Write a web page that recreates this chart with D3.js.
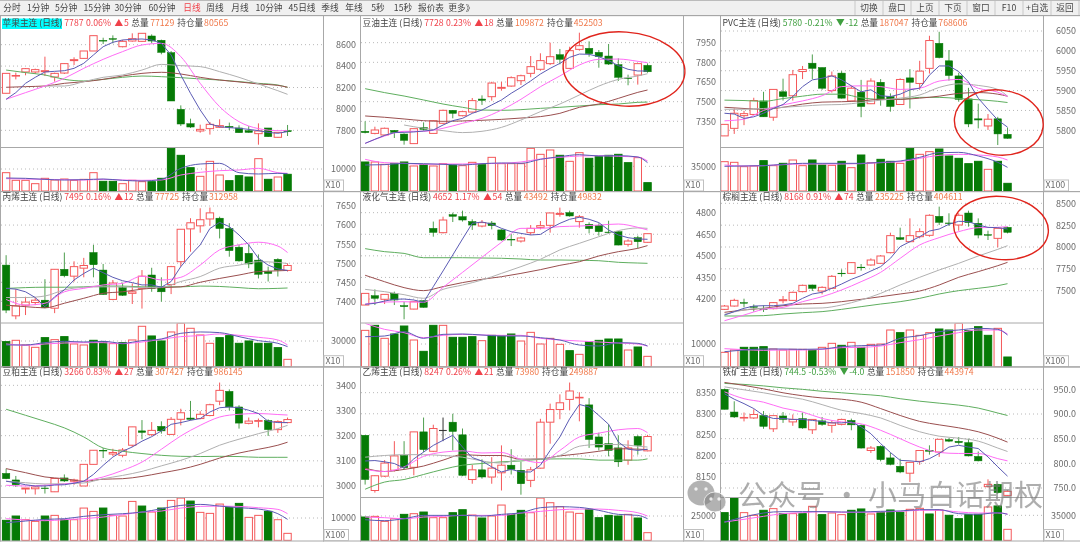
<!DOCTYPE html>
<html><head><meta charset="utf-8">
<script src="https://cdn.jsdelivr.net/npm/d3@7/dist/d3.min.js"></script>
<style>html,body{margin:0;padding:0;background:#fff;overflow:hidden}svg{display:block;filter:blur(0.35px)}text{font-family:"Noto Sans CJK SC","Noto Sans",sans-serif}</style>
</head><body><div id="c"></div>
<script>
const toolbarTabs=['分时','1分钟','5分钟','15分钟','30分钟','60分钟','日线','周线','月线','10分钟','45日线','季线','年线','5秒','15秒','报价表','更多','》'];
const toolbarButtons=['切换','盘口','上页','下页','窗口','F10','+自选','返回'];
const slowIdx=[0,2,4,6,8,10,12,14,16,18,20,22,24,26,28,29];

const appleCandles=[[8146,8332,8146,8332],[8308,8339,8276,8312],[8345,8382,8314,8376],[8345,8376,8326,8367],[8348,8488,8307,8357],[8298,8339,8255,8332],[8335,8426,8326,8423],[8451,8482,8410,8460],[8472,8541,8469,8541],[8541,8684,8541,8684],[8639,8665,8606,8636],[8656,8687,8612,8650],[8581,8644,8575,8631],[8634,8706,8628,8656],[8631,8706,8625,8706],[8681,8696,8612,8634],[8641,8647,8510,8528],[8525,8540,8074,8074],[7996,8033,7840,7859],[7862,7909,7822,7831],[7794,7853,7778,7809],[7816,7878,7760,7856],[7828,7903,7822,7844],[7837,7872,7803,7828],[7822,7847,7778,7778],[7797,7840,7778,7781],[7769,7865,7666,7794],[7822,7822,7738,7741],[7735,7784,7732,7781],[7797,7850,7747,7787]];
const appleMa5=[8090,8152,8239,8295,8345,8351,8357,8379,8426,8504,8581,8622,8644,8650,8653,8644,8612,8504,8317,8146,7990,7859,7834,7825,7819,7809,7797,7781,7772,7788];
const appleMa10=[8090,8152,8214,8286,8379,8463,8535,8597,8612,8488,8239,8021,7881,7816,7797,7797];
const appleMa20=[null,null,8214,8214,8254,8295,8317,8363,8416,8404,8395,8348,8295,8233,8170,8136];
const appleMa40=[8202,8208,8214,8239,8254,8276,8307,8332,8342,8326,8295,8270,8252,8233,8220,8202];
const appleMa60=[8363,8339,8317,8276,8261,8276,8295,8307,8301,8292,8280,8270,8255,8239,8223,8202];
const appleVol=[8330,4850,4850,3330,5760,5000,5450,4850,5300,8330,4390,4390,3330,4850,4240,4240,5760,19390,16210,10600,6670,13480,7270,4700,6970,6360,14700,5300,6360,7580];
const appleVolMa5=[5909,5757,5303,5000,5151,5454,4848,4545,5303,10302,12272,12575,8333,7727,8030,7878];
const appleVolMa10=[5606,5454,5303,5151,5000,5303,5000,4848,5000,7272,8484,9242,9545,10302,8333,8030];

const soyoilCandles=[[7274,7350,7258,7264],[7258,7309,7251,7284],[7246,7302,7238,7297],[7281,7284,7223,7266],[7253,7258,7172,7205],[7180,7294,7180,7294],[7302,7342,7279,7289],[7258,7360,7258,7355],[7335,7439,7330,7434],[7434,7436,7373,7411],[7393,7431,7388,7424],[7421,7528,7416,7508],[7520,7548,7475,7510],[7538,7652,7508,7642],[7602,7652,7584,7609],[7619,7693,7614,7683],[7660,7706,7627,7698],[7716,7848,7686,7767],[7747,7869,7736,7813],[7790,7950,7780,7843],[7858,7902,7785,7823],[7754,7919,7752,7889],[7899,8026,7889,7927],[7907,7960,7843,7866],[7876,7894,7759,7843],[7848,7940,7780,7787],[7782,7830,7658,7686],[7680,7706,7625,7676],[7703,7792,7630,7790],[7777,7792,7721,7728]];
const soyoilMa5=[7182,7213,7243,7264,7266,7269,7276,7284,7322,7355,7373,7411,7436,7475,7513,7564,7609,7658,7711,7754,7792,7838,7863,7861,7843,7813,7775,7747,7734,7734];
const soyoilMa10=[7182,7238,7274,7274,7297,7335,7373,7436,7518,7614,7696,7780,7823,7825,7808,7797];
const soyoilMa20=[null,null,7322,7297,7279,7264,7274,7304,7360,7424,7482,7551,7619,7670,7696,7713];
const soyoilMa40=[7391,7381,7368,7355,7350,7353,7358,7365,7375,7386,7411,7457,7482,7525,7571,7589];
const soyoilMa60=[7599,7569,7543,7513,7482,7457,7436,7434,7439,7449,7457,7467,7477,7482,7495,7497];
const soyoilVol=[41150,41150,37840,39260,41150,35480,37370,35480,38790,36890,35950,40680,37370,47770,38790,38790,38790,60540,52030,58180,50610,42100,54400,46350,48720,50610,52030,40200,47300,11830];
const soyoilVolMa5=[36894,37367,39259,38786,37840,36894,38786,39732,39259,44935,48719,51557,49665,50138,48246,40205];
const soyoilVolMa10=[44935,40205,39259,37840,38313,38313,38786,39259,41151,45408,47773,49665,50138,49192,48246,42570];

const pvcCandles=[[5786,5815,5786,5815],[5805,5855,5791,5843],[5837,5849,5813,5842],[5840,5882,5839,5875],[5874,5897,5834,5834],[5833,5903,5824,5903],[5897,5930,5875,5885],[5887,5952,5875,5940],[5948,5962,5929,5953],[5969,5991,5929,5956],[5958,5958,5902,5906],[5900,5948,5895,5937],[5944,5949,5880,5881],[5874,5912,5872,5906],[5896,5927,5833,5860],[5867,5931,5866,5924],[5921,5929,5862,5879],[5885,5893,5847,5860],[5865,5931,5864,5928],[5932,5954,5855,5921],[5918,5975,5902,5949],[5956,6038,5943,6026],[6019,6048,5981,5983],[5975,6002,5925,5938],[5937,5945,5872,5878],[5879,5907,5808,5816],[5829,5867,5805,5826],[5811,5841,5801,5828],[5829,5834,5763,5791],[5790,5807,5779,5780]];
const pvcMa5=[5843,5841,5830,5834,5843,5855,5865,5885,5910,5927,5931,5937,5927,5912,5897,5902,5887,5885,5891,5902,5906,5939,5962,5962,5948,5922,5881,5853,5826,5808];
const pvcMa10=[5824,5828,5850,5864,5874,5887,5910,5912,5910,5903,5906,5924,5928,5906,5896,5885];
const pvcMa20=[5853,5853,5855,5858,5861,5864,5865,5870,5876,5881,5889,5908,5917,5913,5903,5886];
const pvcMa40=[5858,5855,5853,5858,5866,5871,5872,5874,5878,5878,5881,5886,5893,5895,5891,5886];
const pvcMa60=[5876,5875,5873,5880,5886,5891,5891,5882,5878,5878,5883,5883,5880,5877,5873,5870];
const pvcVol=[41620,40680,34530,35480,43040,35950,39260,43990,35950,43990,36890,36420,42100,33110,51080,40200,44940,42100,39260,60540,52030,55810,59600,49660,46350,38790,42100,30750,42100,10880];
const pvcVolMa5=[35002,35475,35948,37840,39259,39259,39259,39259,40678,42570,47773,54395,54868,49665,40678,33583];
const pvcVolMa10=[36894,35475,35948,37367,38313,38313,38313,38786,40205,41624,46354,50611,52030,51084,48246,43989];

const propyleneCandles=[[7495,7521,7369,7377],[7362,7432,7353,7388],[7390,7412,7364,7398],[7397,7410,7390,7403],[7403,7458,7382,7383],[7382,7484,7369,7484],[7484,7528,7463,7467],[7466,7505,7452,7491],[7487,7514,7463,7494],[7528,7548,7463,7496],[7482,7498,7417,7418],[7405,7456,7403,7448],[7436,7449,7414,7416],[7421,7447,7393,7425],[7434,7482,7381,7466],[7469,7488,7425,7434],[7438,7463,7399,7425],[7444,7493,7419,7491],[7504,7589,7491,7589],[7590,7618,7530,7606],[7598,7644,7580,7614],[7616,7646,7598,7632],[7618,7622,7565,7591],[7591,7605,7517,7533],[7542,7549,7504,7506],[7526,7548,7487,7498],[7508,7523,7460,7471],[7478,7491,7452,7473],[7510,7513,7465,7482],[7481,7500,7478,7494]];
const propyleneMa5=[7434,7432,7425,7410,7386,7412,7430,7456,7473,7487,7475,7463,7454,7449,7443,7443,7437,7452,7491,7521,7548,7591,7607,7596,7574,7548,7513,7495,7485,7481];
const propyleneMa10=[7405,7390,7395,7425,7434,7443,7447,7466,7456,7463,7495,7535,7548,7555,7545,7528];
const propyleneMa20=[7410,7410,7414,7430,7437,7438,7438,7436,7437,7452,7465,7487,7495,7504,7502,7499];
const propyleneMa40=[7390,7386,7383,7395,7408,7421,7425,7432,7436,7438,7450,7460,7469,7478,7480,7481];
const propyleneMa60=[7434,7436,7437,7437,7438,7440,7440,7438,7438,7438,7440,7439,7436,7433,7434,7435];
const propyleneVol=[29250,30810,25350,22620,33930,31590,35100,26520,25350,30810,29250,26910,28080,31200,47190,35880,30030,40560,50700,44850,37050,27300,33930,36270,27300,30030,27300,27300,22230,8580];
const propyleneVolMa5=[25350,25350,28080,29640,28860,29640,27300,30420,32370,39000,40560,39780,35100,30420,27300,23400];
const propyleneVolMa10=[26520,24960,26520,27690,28080,28080,26910,28860,31980,35100,36270,38220,36660,34320,31200,25350];

const lpgCandles=[[4158,4239,4158,4239],[4223,4267,4158,4205],[4198,4232,4165,4232],[4239,4251,4158,4193],[4154,4181,4059,4147],[4130,4183,4128,4181],[4188,4190,4140,4142],[4691,4738,4633,4663],[4661,4772,4656,4749],[4786,4800,4735,4775],[4772,4814,4738,4749],[4738,4754,4680,4714],[4707,4749,4698,4731],[4728,4742,4684,4710],[4680,4684,4605,4610],[4615,4651,4568,4610],[4603,4633,4592,4624],[4661,4714,4645,4691],[4698,4742,4684,4710],[4712,4798,4661,4798],[4788,4835,4772,4795],[4800,4814,4772,4777],[4738,4784,4696,4772],[4719,4733,4656,4689],[4712,4726,4640,4668],[4665,4744,4656,4661],[4668,4670,4573,4575],[4580,4615,4564,4603],[4626,4640,4552,4598],[4594,4654,4592,4654]];
const lpgMa5=[4163,4170,4186,4198,4200,4193,4177,4286,4395,4506,4617,4726,4735,4721,4691,4668,4656,4645,4649,4691,4726,4754,4768,4754,4731,4680,4645,4626,4617,4615];
const lpgMa10=[4165,4179,4181,4177,4281,4385,4490,4594,4691,4691,4703,4707,4714,4721,4698,4680];
const lpgMa20=[4267,4251,4230,4205,4267,4297,4332,4378,4425,4476,4541,4587,4633,4675,4694,4691];
const lpgMa40=[4365,4320,4279,4258,4286,4314,4337,4355,4378,4404,4434,4459,4499,4529,4552,4571];
const lpgMa60=[4550,4529,4517,4487,4487,4487,4485,4483,4478,4471,4471,4469,4466,4455,4450,4448];
const lpgVol=[16020,18230,12500,14410,17930,11760,6760,18230,18230,12940,12940,13230,11470,13820,13520,14410,11320,15140,10000,12500,9850,7060,5440,11030,11610,12200,12200,7350,8670,4560];
const lpgVolMa5=[13230,13524,15435,12495,14259,14406,13965,13524,13524,12789,11760,9555,9114,10584,10290,9114];
const lpgVolMa10=[19110,16464,14994,12789,13818,14259,13965,13818,13818,12495,11760,11319,10878,10437,9996,9114];

const palmCandles=[[7286,7336,7279,7324],[7324,7408,7317,7389],[7363,7408,7309,7359],[7317,7343,7260,7313],[7290,7332,7256,7286],[7294,7370,7286,7363],[7385,7439,7355,7397],[7389,7489,7382,7481],[7489,7569,7481,7561],[7565,7569,7496,7527],[7496,7550,7458,7538],[7527,7679,7519,7664],[7700,7744,7660,7698],[7698,7828,7691,7821],[7769,7805,7729,7767],[7794,7870,7786,7851],[7813,7908,7805,7897],[7935,8164,7927,8130],[8107,8221,8080,8088],[8061,8328,8053,8130],[8118,8214,8099,8176],[8134,8374,8118,8363],[8351,8462,8252,8282],[8275,8386,8240,8271],[8252,8386,8187,8363],[8389,8416,8233,8279],[8271,8328,8099,8137],[8141,8187,8080,8137],[8099,8221,7996,8214],[8225,8233,8156,8168]];
const palmMa5=[7221,7260,7298,7324,7328,7328,7336,7355,7412,7462,7481,7527,7576,7630,7672,7725,7775,7870,8004,8061,8118,8183,8206,8260,8294,8290,8252,8225,8221,8206];
const palmMa10=[7156,7221,7286,7309,7374,7431,7508,7603,7710,7870,8023,8107,8176,8221,8225,8233];
const palmMa20=[7229,7279,7298,7298,7298,7302,7336,7393,7469,7565,7653,7737,7813,7897,7973,8015];
const palmMa40=[7252,7279,7298,7328,7347,7355,7374,7401,7431,7462,7496,7565,7653,7718,7786,7824];
const palmMa60=[7210,7210,7214,7233,7248,7260,7286,7317,7347,7374,7412,7462,7500,7527,7557,7580];
const palmVol=[43000,50000,58000,58000,60000,53000,50000,52000,52000,50000,58000,70000,64000,73000,58000,67000,68000,110000,102000,110000,94000,102000,113000,110000,130000,108000,120000,94000,115000,29000];
const palmVolMa5=[45000,50000,53000,53000,52000,53000,60000,63000,65000,85000,93000,105000,110000,115000,112000,95000];
const palmVolMa10=[54000,51000,49000,50000,50000,52000,57000,58000,62000,72000,81000,92000,102000,110000,110000,98000];

const soymealCandles=[[3050,3069,3027,3029],[3024,3040,2996,3005],[2988,2992,2970,2992],[2989,2999,2966,2996],[2992,3005,2970,2991],[2977,3031,2976,3030],[3032,3046,3016,3020],[3019,3029,3005,3024],[3000,3086,3000,3086],[3086,3142,3086,3142],[3142,3151,3111,3139],[3127,3148,3119,3133],[3122,3151,3114,3143],[3162,3235,3155,3235],[3219,3262,3186,3213],[3204,3254,3199,3221],[3237,3257,3208,3219],[3205,3274,3203,3265],[3265,3307,3241,3291],[3270,3338,3261,3265],[3268,3297,3265,3285],[3280,3327,3277,3323],[3337,3411,3321,3380],[3376,3384,3301,3314],[3314,3321,3228,3250],[3249,3272,3245,3258],[3257,3268,3233,3260],[3260,3265,3199,3224],[3224,3261,3211,3256],[3252,3272,3249,3264]];
const soymealMa5=[3019,3013,3005,3000,3000,3004,3005,3011,3019,3046,3082,3115,3138,3155,3178,3196,3219,3245,3252,3261,3268,3294,3311,3314,3311,3301,3288,3257,3252,3252];
const soymealMa10=[3003,3000,3003,3008,3019,3036,3062,3095,3146,3199,3241,3274,3285,3288,3284,3282];
const soymealMa20=[3019,3013,3008,3009,3012,3029,3042,3058,3080,3102,3129,3162,3186,3208,3228,3241];
const soymealMa40=[3069,3053,3036,3029,3019,3027,3029,3038,3052,3066,3086,3111,3131,3146,3162,3174];
const soymealMa60=[3305,3281,3257,3231,3195,3151,3138,3129,3122,3118,3117,3118,3117,3114,3114,3114];
const soymealVol=[8940,10880,9240,8490,10880,11180,9240,9240,14450,12960,14450,11180,10880,17430,15350,12670,14450,17880,18920,17580,12520,12070,16240,14750,16540,10280,11180,12960,9240,3130];
const soymealVolMa5=[7897,8642,9387,9685,10728,11473,11920,12665,14155,15645,16092,15347,14602,14006,11920,9387];
const soymealVolMa10=[9685,9089,8791,9238,9685,10430,11473,12665,13112,14453,15198,15347,15198,14602,13857,11920];

const ethyleneCandles=[[8249,8249,8132,8144],[8118,8154,8113,8153],[8152,8190,8150,8183],[8166,8235,8163,8200],[8201,8235,8168,8172],[8173,8257,8154,8257],[8257,8291,8209,8215],[8211,8274,8209,8265],[8261,8291,8235,8261],[8280,8300,8213,8258],[8250,8265,8152,8154],[8144,8179,8134,8167],[8167,8192,8146,8150],[8150,8197,8134,8171],[8160,8225,8118,8178],[8178,8216,8156,8168],[8166,8186,8108,8134],[8142,8174,8126,8167],[8171,8288,8170,8280],[8280,8324,8229,8310],[8310,8346,8287,8326],[8334,8374,8308,8354],[8338,8351,8282,8339],[8321,8337,8219,8239],[8245,8255,8213,8221],[8229,8275,8199,8213],[8219,8249,8174,8186],[8190,8237,8179,8219],[8246,8249,8203,8225],[8212,8250,8211,8246]];
const ethyleneMa5=[8188,8189,8186,8182,8171,8193,8209,8225,8237,8249,8221,8196,8188,8174,8162,8168,8162,8162,8178,8213,8245,8288,8322,8316,8296,8275,8233,8216,8213,8216];
const ethyleneMa10=[8168,8163,8174,8199,8209,8212,8207,8208,8192,8184,8213,8245,8254,8262,8265,8255];
const ethyleneMa20=[8197,8201,8203,8203,8201,8197,8188,8183,8192,8193,8201,8223,8227,8227,8223,8221];
const ethyleneMa40=[8171,8163,8168,8176,8190,8203,8201,8201,8192,8193,8200,8205,8211,8217,8216,8215];
const ethyleneMa60=[8121,8138,8144,8156,8168,8178,8182,8186,8188,8192,8193,8193,8190,8190,8190,8193];
const ethyleneVol=[23940,24620,19490,22230,26680,27360,29070,23260,23260,28390,31460,25990,22910,24970,36250,26680,30780,28390,43430,38650,34540,29070,27700,31810,23260,25650,24970,26680,22910,7870];
const ethyleneVolMa5=[21204,20178,22230,25650,25650,25650,24966,26676,28386,33516,34542,33858,30780,26676,25650,22230];
const ethyleneVolMa10=[23940,23256,22230,23940,24624,25650,25650,25650,28044,29754,31464,32148,32148,30780,28386,24966];

const ironCandles=[[950,951.5,909.5,909.5],[904,925.8,892,894],[892,903,885,893],[892,909.5,890,899],[897,906,870,875],[870,897,863.6,896.7],[896,904,882,889],[884,899,876,889],[890.6,903,870,871.7],[868,889,859.5,889],[886,894,876,879],[877,887,862,882],[879,890.6,877,889],[887,890.6,867,878],[877,879,830,831],[826,835,821,831],[834.5,836.5,804,807.5],[811,821.7,796,798],[794,809.5,780,782.5],[780,803,762,802],[804,826.5,797,826],[826.5,836.5,817.6,824.5],[823,848.7,813,848.7],[848,851,843,845],[844.6,853.4,838,842],[842,850,814,815],[814,824,804,805],[752.7,767.6,751,757.4],[757.4,758.8,738.5,740.5],[735,745.3,733.8,743.2]];
const ironMa5=[941,930,921,911,897,891,891,889,889,887,885,882,882,884,874,860,840,822,806,805,803,809.5,820,833,836.5,833,830,813,793,774];
const ironMa10=[945,931,924,912,904,891,884,880,867,850,833,822,820,820,809.5,805];
const ironMa20=[955,949,943,936,930,919,907.5,901,892,877,864,855,851,845,831,824];
const ironMa40=[964,958,951,943,937,932.5,930,924,911,897,885,878,872,864,851,843];
const ironMa60=[962,960,957,953,950,946,943,940,937,931,926,922,918,912,902,897];
const ironVol=[38760,59310,38760,35030,42030,44370,37360,37360,37360,47630,35960,38290,35960,42030,43900,36890,39230,42500,39230,43430,44830,36890,42500,35030,30360,35960,36430,46700,48100,15410];
const ironVolMa5=[25685,32690,38294,40162,40162,40162,39695,39695,40629,41096,42964,42964,37360,36426,38761,36426];
const ironVolMa10=[25685,29421,33624,37360,38761,40162,39228,39228,39695,40629,42030,42030,39695,38294,38294,36893];

const names=['苹果主连','豆油主连','PVC主连','丙烯主连','液化气主连','棕榈主连','豆粕主连','乙烯主连','铁矿主连'];
const lastPrices=['7787','7728','5780','7495','4652','8168','3266','8247','744.5'];
const pctChanges=['0.06%','0.23%','-0.21%','0.16%','1.17%','0.91%','0.83%','0.26%','-0.53%'];
const netChanges=['5','18','-12','12','54','74','27','21','-4.0'];
const totalVolumes=['77129','109872','187047','77725','43492','235225','307427','73980','151850'];
const openInterests=['80565','452503','768606','312958','49832','404611','986145','249887','443974'];
const priceTicks=[[8600,8400,8200,8000,7800],[7950,7800,7650,7500,7350],[6050,6000,5950,5900,5850,5800],[7650,7600,7550,7500,7450,7400],[4800,4650,4500,4350,4200],[8500,8250,8000,7750,7500],[3400,3300,3200,3100,3000],[8350,8300,8250,8200,8150],[950,900,850,800,750]];
const volTicks=[10000,35000,null,30000,10000,null,10000,25000,35000];
const volUnits=['X10','X10','X100','X10','X10','X100','X100','X10','X10'];
const candleSets=[appleCandles,soyoilCandles,pvcCandles,propyleneCandles,lpgCandles,palmCandles,soymealCandles,ethyleneCandles,ironCandles];
const ma5Sets=[appleMa5,soyoilMa5,pvcMa5,propyleneMa5,lpgMa5,palmMa5,soymealMa5,ethyleneMa5,ironMa5];
const ma10Sets=[appleMa10,soyoilMa10,pvcMa10,propyleneMa10,lpgMa10,palmMa10,soymealMa10,ethyleneMa10,ironMa10];
const ma20Sets=[appleMa20,soyoilMa20,pvcMa20,propyleneMa20,lpgMa20,palmMa20,soymealMa20,ethyleneMa20,ironMa20];
const ma40Sets=[appleMa40,soyoilMa40,pvcMa40,propyleneMa40,lpgMa40,palmMa40,soymealMa40,ethyleneMa40,ironMa40];
const ma60Sets=[appleMa60,soyoilMa60,pvcMa60,propyleneMa60,lpgMa60,palmMa60,soymealMa60,ethyleneMa60,ironMa60];
const volSets=[appleVol,soyoilVol,pvcVol,propyleneVol,lpgVol,palmVol,soymealVol,ethyleneVol,ironVol];
const volMa5Sets=[appleVolMa5,soyoilVolMa5,pvcVolMa5,propyleneVolMa5,lpgVolMa5,palmVolMa5,soymealVolMa5,ethyleneVolMa5,ironVolMa5];
const volMa10Sets=[appleVolMa10,soyoilVolMa10,pvcVolMa10,propyleneVolMa10,lpgVolMa10,palmVolMa10,soymealVolMa10,ethyleneVolMa10,ironVolMa10];

// ---- layout (pixels), separate from the data
const W=1080,H=542,plotW=323;
const rows=[{off:0,top:47/3,sep:147,bot:191,head:23.5},{off:190,top:191.7,sep:322.5,bot:366.7,head:198.2},{off:362,top:366.7,sep:497,bot:540.5,head:373.2}];
const xLay=[{off:0,c0:15,c1:866},{off:360,c0:12,c1:866},{off:720,c0:10,c1:866}];
const priceAnch=[[8600,134,7800,391],[7950,128,7350,364],[6050,93,5800,391],[7650,48,7400,334],[4800,68,4200,327],[8500,40,7500,302],[3400,70,3000,372],[8350,92,8150,345],[950,82,750,378]];
const volAnch=[[10000,507,573],[35000,499,573],[35000,499,573],[30000,453,530],[10000,462,530],[100000,430,530],[10000,468,535],[25000,462,535],[35000,460,535]];
const C={up:'#f4585a',down:'#067a06',downWick:'#4f9f4f',doji:'#333',ma5:'#5b5bb4',ma10:'#ff6cf5',ma20:'#b0b0b0',ma40:'#9a4f4f',ma60:'#5fae5f',grid:'#b8b8b8',frame:'#a8a8a8',tick:'#6a6a6a',head:'#444',orange:'#f0784a',upText:'#f0414a',downText:'#3f9f3f'};

const svg=d3.select('#c').append('svg').attr('width',W).attr('height',H);
svg.append('rect').attr('width',W).attr('height',H).attr('fill','#fff');

// toolbar
const tb=svg.append('g');
tb.append('rect').attr('width',W).attr('height',15).attr('fill','#f0f0f0');
const tabX=d3.scaleOrdinal().domain(toolbarTabs).range([12,38,66,97,128,162,192,215,240,269,302,330,354,378,403,431,457,470]);
tb.selectAll('text.tab').data(toolbarTabs).join('text').attr('class','tab').attr('x',d=>tabX(d)).attr('y',8.5).attr('text-anchor','middle').attr('dominant-baseline','middle').attr('font-size',8.7).attr('fill',d=>d==='日线'?'#f0414a':'#444').text(d=>d);
const btnBand=d3.scaleBand().domain(toolbarButtons).range([855,1079]);
tb.selectAll('text.btn').data(toolbarButtons).join('text').attr('class','btn').attr('x',d=>btnBand(d)+btnBand.bandwidth()/2).attr('y',8.5).attr('text-anchor','middle').attr('dominant-baseline','middle').attr('font-size',8.7).attr('fill','#444').text(d=>d);
tb.selectAll('line.btn').data(toolbarButtons.concat(['end'])).join('line').attr('x1',(d,i)=>855+i*btnBand.step()).attr('x2',(d,i)=>855+i*btnBand.step()).attr('y1',0).attr('y2',15).attr('stroke','#c8c8c8');
tb.append('line').attr('x1',0).attr('x2',W).attr('y1',0.5).attr('y2',0.5).attr('stroke','#bbb');
tb.append('line').attr('x1',0).attr('x2',W).attr('y1',15.5).attr('y2',15.5).attr('stroke','#a0a0a0');

names.forEach((name,k)=>{
  const R=rows[Math.floor(k/3)],X=xLay[k%3],pa=priceAnch[k],va=volAnch[k];
  const g=svg.append('g');
  const x=d3.scaleBand().domain(d3.range(30)).range([X.off+(X.c0-14.7)/3,X.off+(X.c1+14.7)/3]).padding(0.24);
  const cx=i=>x(i)+x.bandwidth()/2;
  const y=d3.scaleLinear().domain([pa[0],pa[2]]).range([R.off+pa[1]/3,R.off+pa[3]/3]);
  const vy=d3.scaleLinear().domain([0,va[0]]).range([R.off+va[2]/3,R.off+va[1]/3]);
  const base=vy(0);
  const clipM='m'+k,clipV='v'+k;
  g.append('clipPath').attr('id',clipM).append('rect').attr('x',X.off+1).attr('y',R.top+1).attr('width',plotW-1).attr('height',R.sep-R.top-1);
  g.append('clipPath').attr('id',clipV).append('rect').attr('x',X.off+1).attr('y',R.sep+1).attr('width',plotW-1).attr('height',R.bot-R.sep);

  // grid
  g.selectAll('line.gm').data(priceTicks[k]).join('line').attr('class','gm').attr('x1',X.off+1).attr('x2',X.off+plotW).attr('y1',d=>y(d)).attr('y2',d=>y(d)).attr('stroke',C.grid).attr('stroke-dasharray','1 3');
  if(volTicks[k]!==null) g.append('line').attr('x1',X.off+1).attr('x2',X.off+plotW).attr('y1',vy(volTicks[k])).attr('y2',vy(volTicks[k])).attr('stroke',C.grid).attr('stroke-dasharray','1 3');

  // candles
  const cg=g.append('g').attr('clip-path',`url(#${clipM})`);
  const data=candleSets[k].map((d,i)=>({i,o:d[0],h:d[1],l:d[2],c:d[3]}));
  const col=d=>d.c>d.o?C.up:(d.c<d.o?C.down:C.doji);
  const wickCol=d=>d.c>d.o?C.up:(d.c<d.o?C.downWick:C.doji);
  cg.selectAll('line.w').data(data).join('line').attr('class','w').attr('x1',d=>cx(d.i)).attr('x2',d=>cx(d.i)).attr('y1',d=>y(d.h)).attr('y2',d=>y(d.l)).attr('stroke',wickCol).attr('stroke-width',1);
  cg.selectAll('rect.b').data(data).join('rect').attr('class','b').attr('x',d=>x(d.i)).attr('width',x.bandwidth())
    .attr('y',d=>y(Math.max(d.o,d.c))).attr('height',d=>Math.max(0.6,Math.abs(y(d.o)-y(d.c))))
    .attr('fill',d=>d.c>d.o?'#fff':col(d)).attr('stroke',col).attr('stroke-width',d=>d.c>d.o?1:0.5);

  // moving averages
  const ln=d3.line().defined(d=>d[1]!==null).x(d=>cx(d[0])).y(d=>y(d[1])).curve(d3.curveMonotoneX);
  const slow=a=>a.map((v,j)=>[slowIdx[j],v]);
  [[ma60Sets[k],C.ma60],[ma40Sets[k],C.ma40],[ma20Sets[k],C.ma20],[ma10Sets[k],C.ma10]].forEach(([a,c])=>{
    cg.append('path').attr('d',ln(slow(a))).attr('fill','none').attr('stroke',c).attr('stroke-width',1);
  });
  const ln5=d3.line().x(d=>cx(d[0])).y(d=>y(d[1]));
  cg.append('path').attr('d',ln5(ma5Sets[k].map((v,i)=>[i,v]))).attr('fill','none').attr('stroke',C.ma5).attr('stroke-width',1);

  // volume
  const vg=g.append('g').attr('clip-path',`url(#${clipV})`);
  vg.selectAll('rect.v').data(volSets[k]).join('rect').attr('class','v').attr('x',(d,i)=>x(i)).attr('width',x.bandwidth()).attr('y',d=>vy(d)).attr('height',d=>base-vy(d))
    .attr('fill',(d,i)=>data[i].c>=data[i].o?'#fff':C.down).attr('stroke',(d,i)=>data[i].c>=data[i].o?C.up:C.down).attr('stroke-width',1);
  const vln=d3.line().x(d=>cx(d[0])).y(d=>vy(d[1])).curve(d3.curveMonotoneX);
  vg.append('path').attr('d',vln(slow(volMa10Sets[k]))).attr('fill','none').attr('stroke',C.ma10);
  vg.append('path').attr('d',vln(slow(volMa5Sets[k]))).attr('fill','none').attr('stroke',C.ma5);

  // frame
  const fr=(a,b,c,d)=>g.append('line').attr('x1',a).attr('y1',b).attr('x2',c).attr('y2',d).attr('stroke',C.frame);
  fr(X.off+.5,R.top,X.off+.5,R.bot+1);
  fr(X.off+plotW+.5,R.top,X.off+plotW+.5,R.bot+1);
  fr(X.off,R.sep+.5,X.off+plotW,R.sep+.5);
  fr(X.off,R.top,X.off+360,R.top);
  fr(X.off,R.bot+.5,X.off+360,R.bot+.5);

  // axes
  const fmt=k===8?d3.format('.1f'):d3.format('d');
  const ax=g.append('g').attr('transform',`translate(${X.off+356},0)`).call(d3.axisRight(y).tickValues(priceTicks[k]).tickSize(0).tickFormat(fmt));
  ax.select('.domain').remove();
  ax.selectAll('text').attr('x',0).attr('text-anchor','end').attr('fill',C.tick).attr('font-size',9).attr('font-family','"Noto Sans","Noto Sans CJK SC",sans-serif');
  if(volTicks[k]!==null){
    const vx=g.append('g').attr('transform',`translate(${X.off+356},0)`).call(d3.axisRight(vy).tickValues([volTicks[k]]).tickSize(0).tickFormat(d3.format('d')));
    vx.select('.domain').remove();
    vx.selectAll('text').attr('x',0).attr('text-anchor','end').attr('fill',C.tick).attr('font-size',9).attr('font-family','"Noto Sans","Noto Sans CJK SC",sans-serif');
  }
  const bw=volUnits[k]==='X100'?24.5:19.5;
  g.append('rect').attr('x',X.off+plotW+1).attr('y',R.bot-11).attr('width',bw).attr('height',11).attr('fill','#fff').attr('stroke','#c0c0c0');
  g.append('text').attr('x',X.off+plotW+2.5).attr('y',R.bot-5.3).attr('dominant-baseline','middle').attr('font-size',8.8).attr('fill',C.tick).attr('font-family','"Noto Sans",sans-serif').text(volUnits[k]);

  // header
  if(k===0) g.append('rect').attr('x',2).attr('y',18.5).attr('width',60).attr('height',10.5).attr('fill','#00ffff');
  const neg=pctChanges[k][0]==='-';
  const pc=neg?C.downText:C.upText;
  const t=g.append('text').attr('x',X.off+2.5).attr('y',R.head).attr('dominant-baseline','middle').attr('font-size',8.7).style('white-space','pre');
  const sp=(s,c,dx)=>t.append('tspan').attr('fill',c).attr('dx',dx||0).text(s);
  sp(name+' (日线)',C.head);
  sp(lastPrices[k],pc,1.8);
  sp(pctChanges[k],pc,2.5);
  sp(neg?'▼':'▲',pc,3.5);
  sp(netChanges[k],pc,.8);
  sp('总量',C.head,2.5);
  sp(totalVolumes[k],C.orange,1.5);
  sp('持仓量',C.head,3);
  sp(openInterests[k],C.orange,.8);
});

// circled annotations
const circled=[{cx:624,cy:69,rx:61,ry:37,rot:4},{cx:998.8,cy:122.5,rx:44.5,ry:32.5,rot:6},{cx:1001,cy:228,rx:47.5,ry:31.5,rot:6}];
svg.selectAll('ellipse.mark').data(circled).join('ellipse').attr('class','mark').attr('cx',d=>d.cx).attr('cy',d=>d.cy).attr('rx',d=>d.rx).attr('ry',d=>d.ry)
  .attr('transform',d=>`rotate(${d.rot} ${d.cx} ${d.cy})`).attr('fill','none').attr('stroke','#e0241c').attr('stroke-width',1.4);

// watermark
const wm=svg.append('g');
wm.append('ellipse').attr('cx',701).attr('cy',493).attr('rx',13.5).attr('ry',12.5).attr('fill','rgba(130,130,130,.62)');
wm.append('ellipse').attr('cx',715).attr('cy',502).attr('rx',11).attr('ry',10).attr('fill','rgba(130,130,130,.62)').attr('stroke','rgba(255,255,255,.7)');
[[696,489],[706,489],[711,499],[719,499]].forEach(p=>wm.append('circle').attr('cx',p[0]).attr('cy',p[1]).attr('r',1.7).attr('fill','rgba(255,255,255,.8)'));
wm.append('text').attr('x',738).attr('y',498).attr('dominant-baseline','middle').attr('font-size',29).attr('fill','rgba(120,120,120,.6)').attr('textLength',305).attr('lengthAdjust','spacing').text('公众号 · 小马白话期权');
</script></body></html>
